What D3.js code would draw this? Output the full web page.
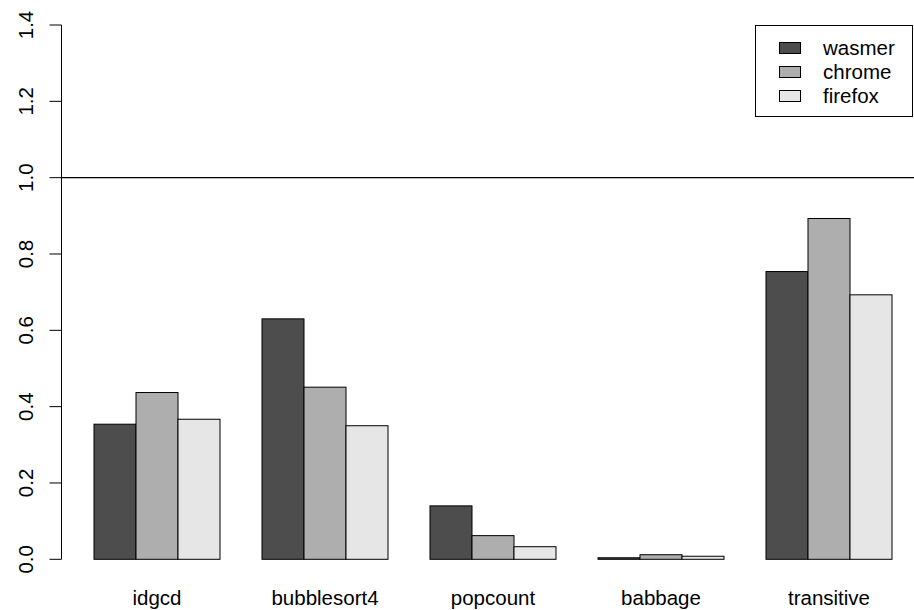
<!DOCTYPE html>
<html>
<head>
<meta charset="utf-8">
<script src="https://cdn.jsdelivr.net/npm/d3@7"></script>
<style>
  html, body { margin: 0; padding: 0; background: #fff; }
  svg { display: block; }
  text { font-family: "Liberation Sans", Arial, sans-serif; fill: #000; }
</style>
</head>
<body>
<svg id="chart" width="914" height="610"></svg>
<script>
const categories = ["idgcd", "bubblesort4", "popcount", "babbage", "transitive"];
const seriesNames = ["wasmer", "chrome", "firefox"];
const wasmer  = [0.354, 0.630, 0.140, 0.004, 0.754];
const chrome  = [0.437, 0.451, 0.062, 0.012, 0.893];
const firefox = [0.367, 0.350, 0.033, 0.008, 0.693];
const seriesColors = ["#4D4D4D", "#AEAEAE", "#E6E6E6"];
const yTicks = [0, 0.2, 0.4, 0.6, 0.8, 1.0, 1.2, 1.4];
const refLine = 1.0;

const series = [wasmer, chrome, firefox];
const svg = d3.select("#chart");
const FONT = 20.5;

// R barplot layout: bar width 1 unit, space 1 between groups
const x = d3.scaleLinear().domain([1, 20]).range([94, 892]);
const y = d3.scaleLinear().domain([0, 1.4]).range([559.3, 25]);

// bars
categories.forEach((cat, i) => {
  series.forEach((vals, j) => {
    const left = 1 + i * 4 + j;
    svg.append("rect")
      .attr("x", x(left))
      .attr("y", y(vals[i]))
      .attr("width", x(left + 1) - x(left))
      .attr("height", y(0) - y(vals[i]))
      .attr("fill", seriesColors[j])
      .attr("stroke", "#000")
      .attr("stroke-width", 1);
  });
  svg.append("text")
    .attr("x", x(1 + i * 4 + 1.5))
    .attr("y", 605)
    .attr("text-anchor", "middle")
    .attr("font-size", FONT)
    .text(cat);
});

// y axis
const axisX = 61.5;
svg.append("line")
  .attr("x1", axisX).attr("x2", axisX)
  .attr("y1", y(0)).attr("y2", y(1.4))
  .attr("stroke", "#000").attr("stroke-width", 1);
yTicks.forEach(t => {
  svg.append("line")
    .attr("x1", axisX - 12).attr("x2", axisX)
    .attr("y1", y(t)).attr("y2", y(t))
    .attr("stroke", "#000").attr("stroke-width", 1);
  svg.append("text")
    .attr("transform", `translate(33,${y(t)}) rotate(-90)`)
    .attr("text-anchor", "middle")
    .attr("font-size", FONT)
    .text(t.toFixed(1));
});

// reference line
svg.append("line")
  .attr("x1", axisX).attr("x2", 914)
  .attr("y1", y(refLine)).attr("y2", y(refLine))
  .attr("stroke", "#000").attr("stroke-width", 1.3);

// legend
svg.append("rect")
  .attr("x", 755.5).attr("y", 25.5)
  .attr("width", 157).attr("height", 91)
  .attr("fill", "#fff").attr("stroke", "#000").attr("stroke-width", 1);
seriesNames.forEach((name, j) => {
  const cy = 48 + j * 24;
  svg.append("rect")
    .attr("x", 779.5).attr("y", cy - 5.5)
    .attr("width", 21).attr("height", 11)
    .attr("fill", seriesColors[j])
    .attr("stroke", "#000").attr("stroke-width", 1);
  svg.append("text")
    .attr("x", 823)
    .attr("y", cy + 7)
    .attr("font-size", FONT)
    .text(name);
});
</script>
</body>
</html>
